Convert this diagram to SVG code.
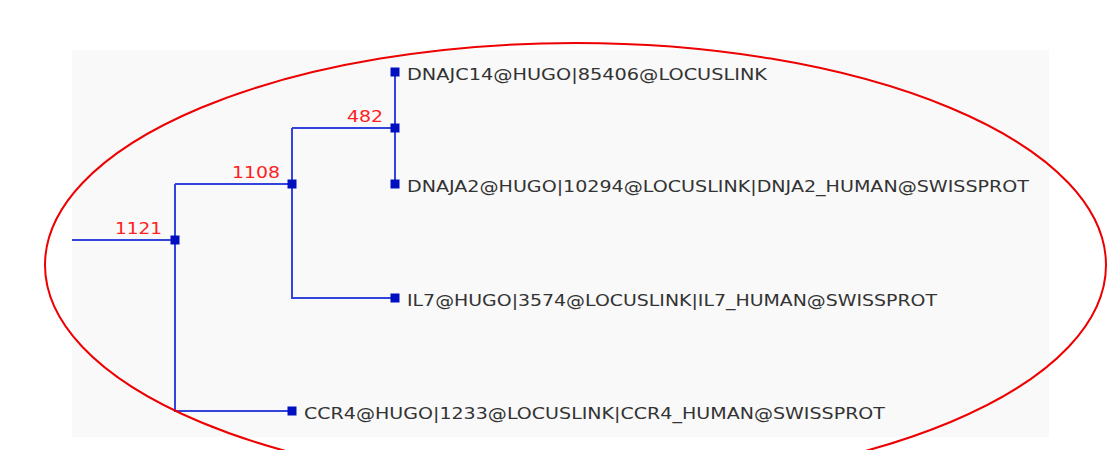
<svg xmlns="http://www.w3.org/2000/svg" width="1112" height="450" viewBox="0 0 1112 450">
<style>
.edge{stroke:#3344dd;stroke-width:2;fill:none}
.nd{fill:#0010c0}
.lbl{font-family:"DejaVu Sans",sans-serif;font-size:15px;fill:#333}
.num{font-family:"DejaVu Sans",sans-serif;font-size:16px;fill:#ff2020}
</style>
<rect x="0" y="0" width="1112" height="450" fill="#ffffff"/>
<rect x="72" y="50" width="977" height="387" fill="#f9f9f9"/>
<g id="connectors">
<path class="edge" d="M72,240 H175"/>
<path class="edge" d="M175,184 V411 H292"/>
<path class="edge" d="M175,184 H292"/>
<path class="edge" d="M292,128 V298 H395"/>
<path class="edge" d="M292,128 H395"/>
<path class="edge" d="M395,72 V184"/>
</g>
<g id="n1121"><rect class="nd" x="170.5" y="235.5" width="9" height="9"/><text class="num" x="115" y="234" textLength="47" lengthAdjust="spacingAndGlyphs">1121</text></g>
<g id="n1108"><rect class="nd" x="287.5" y="179.5" width="9" height="9"/><text class="num" x="232" y="178" textLength="48" lengthAdjust="spacingAndGlyphs">1108</text></g>
<g id="n482"><rect class="nd" x="390.5" y="123.5" width="9" height="9"/><text class="num" x="347" y="122" textLength="36" lengthAdjust="spacingAndGlyphs">482</text></g>
<g id="leaf-dnajc14"><rect class="nd" x="390.5" y="67.5" width="9" height="9"/><text class="lbl" x="407" y="79.5" textLength="360" lengthAdjust="spacingAndGlyphs">DNAJC14@HUGO|85406@LOCUSLINK</text></g>
<g id="leaf-dnaja2"><rect class="nd" x="390.5" y="179.5" width="9" height="9"/><text class="lbl" x="407" y="191.5" textLength="622" lengthAdjust="spacingAndGlyphs">DNAJA2@HUGO|10294@LOCUSLINK|DNJA2_HUMAN@SWISSPROT</text></g>
<g id="leaf-il7"><rect class="nd" x="390.5" y="293.5" width="9" height="9"/><text class="lbl" x="407" y="305.5" textLength="530" lengthAdjust="spacingAndGlyphs">IL7@HUGO|3574@LOCUSLINK|IL7_HUMAN@SWISSPROT</text></g>
<g id="leaf-ccr4"><rect class="nd" x="287.5" y="406.5" width="9" height="9"/><text class="lbl" x="304" y="418.5" textLength="581" lengthAdjust="spacingAndGlyphs">CCR4@HUGO|1233@LOCUSLINK|CCR4_HUMAN@SWISSPROT</text></g>
<ellipse cx="575.5" cy="265" rx="530.5" ry="222" fill="none" stroke="#ee0000" stroke-width="2"/>
</svg>
